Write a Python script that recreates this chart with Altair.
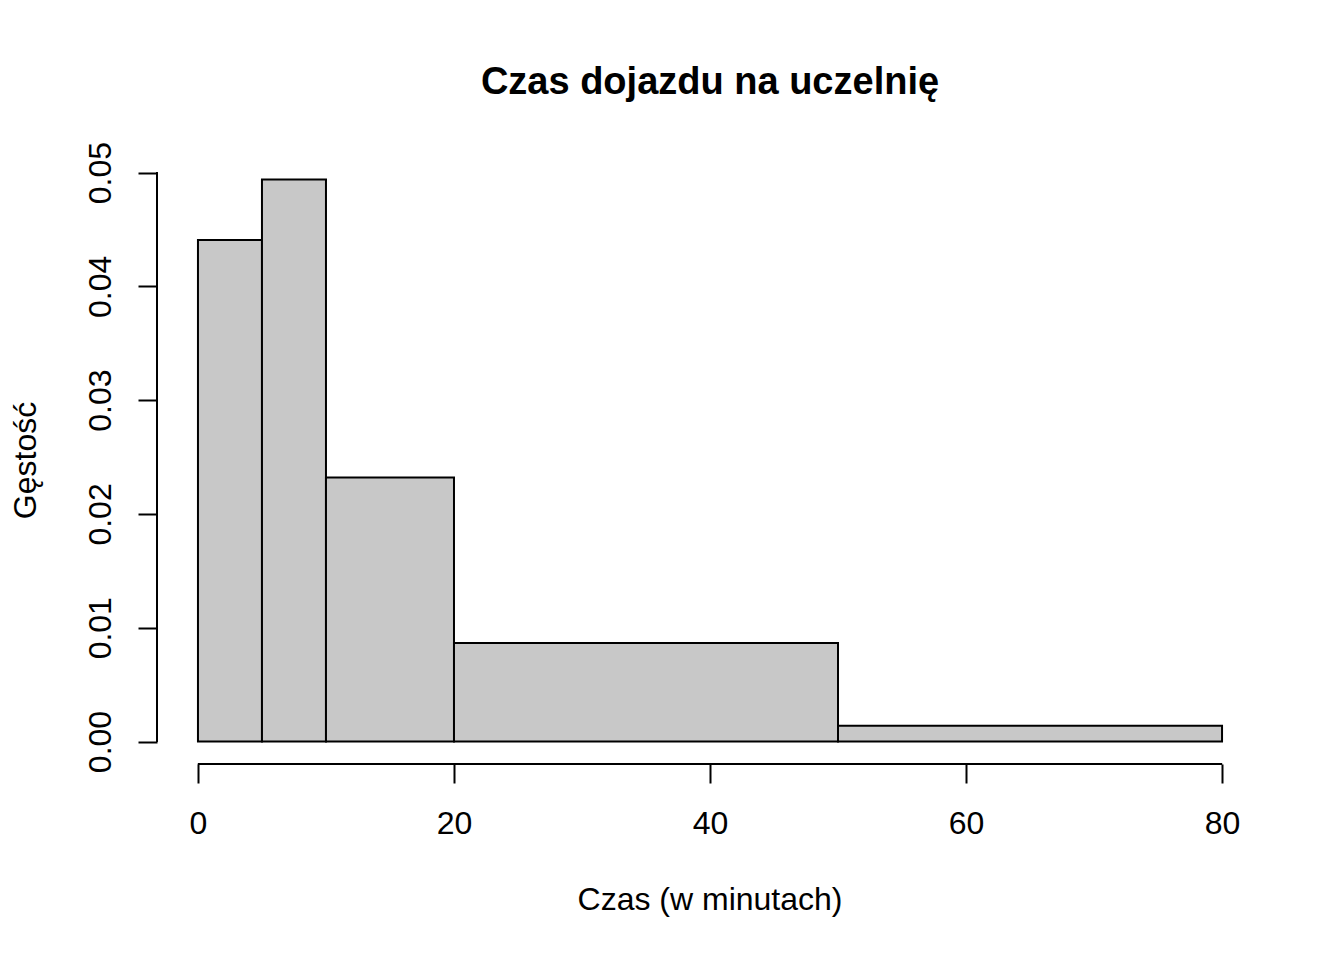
import altair as alt
import pandas as pd

# Data
bin_start = [0, 5, 10, 20, 50]
bin_end = [5, 10, 20, 50, 80]
density = [0.04407, 0.04939, 0.02321, 0.00865, 0.00138]
x_ticks = [0, 20, 40, 60, 80]
y_ticks = [0.00, 0.01, 0.02, 0.03, 0.04, 0.05]

title_text = "Czas dojazdu na uczelnię"
x_title = "Czas (w minutach)"
y_title = "Gęstość"

FONT = "Liberation Sans"
W, H = 1106, 607

df = pd.DataFrame({"start": bin_start, "end": bin_end, "density": density})

# R-style 4% extension of the axis ranges
xr = (min(bin_start), max(bin_end))
xpad = 0.04 * (xr[1] - xr[0])
ymax = max(density)
ypad = 0.04 * ymax
x_scale = alt.Scale(domain=[xr[0] - xpad, xr[1] + xpad], nice=False, zero=False)
y_scale = alt.Scale(domain=[-ypad, ymax + ypad], nice=False, zero=False)

x_axis = alt.Axis(values=x_ticks, domain=False, grid=False, title=None,
                  tickSize=19, tickWidth=2, tickColor="black",
                  labelFont=FONT, labelFontSize=32, labelColor="black",
                  labelBaseline="alphabetic", labelPadding=50,
                  labelFlush=False, labelOverlap=False)
y_axis = alt.Axis(values=y_ticks, format=".2f", domain=False, grid=False, title=None,
                  tickSize=19, tickWidth=2, tickColor="black",
                  labelFont=FONT, labelFontSize=32, labelColor="black",
                  labelAngle=270, labelAlign="center", labelBaseline="alphabetic",
                  labelPadding=28, labelFlush=False, labelOverlap=False)

bars = alt.Chart(df).mark_rect(fill="#c8c8c8", stroke="black", strokeWidth=2).encode(
    x=alt.X("start:Q", scale=x_scale, axis=x_axis),
    x2="end:Q",
    y=alt.Y("density:Q", scale=y_scale, axis=y_axis),
    y2=alt.datum(0),
)

x_line = alt.Chart(df).mark_rule(color="black", strokeWidth=2).encode(
    x=alt.datum(x_ticks[0]), x2=alt.datum(x_ticks[-1]), y=alt.value(H)
)
y_line = alt.Chart(df).mark_rule(color="black", strokeWidth=2).encode(
    y=alt.datum(y_ticks[0]), y2=alt.datum(y_ticks[-1]), x=alt.value(0)
)

t_main = alt.Chart(pd.DataFrame({"t": [title_text]})).mark_text(
    font=FONT, fontSize=38, fontWeight="bold", color="black",
    align="center", baseline="alphabetic"
).encode(text="t:N", x=alt.value(W / 2), y=alt.value(-63))

t_x = alt.Chart(pd.DataFrame({"t": [x_title]})).mark_text(
    font=FONT, fontSize=32, color="black", align="center", baseline="alphabetic"
).encode(text="t:N", x=alt.value(W / 2), y=alt.value(H + 146))

t_y = alt.Chart(pd.DataFrame({"t": [y_title]})).mark_text(
    font=FONT, fontSize=32, color="black", align="center", baseline="alphabetic",
    angle=270
).encode(text="t:N", x=alt.value(-121), y=alt.value(H / 2))

chart = alt.layer(bars, x_line, y_line, t_main, t_x, t_y).properties(
    width=W, height=H,
    background="white",
    autosize=alt.AutoSizeParams(type="none"),
    padding={"left": 149, "top": 149, "right": 73, "bottom": 188},
).configure_view(strokeWidth=0, stroke="transparent")

chart.save("out.html", embed_options={"renderer": "svg", "actions": False})
